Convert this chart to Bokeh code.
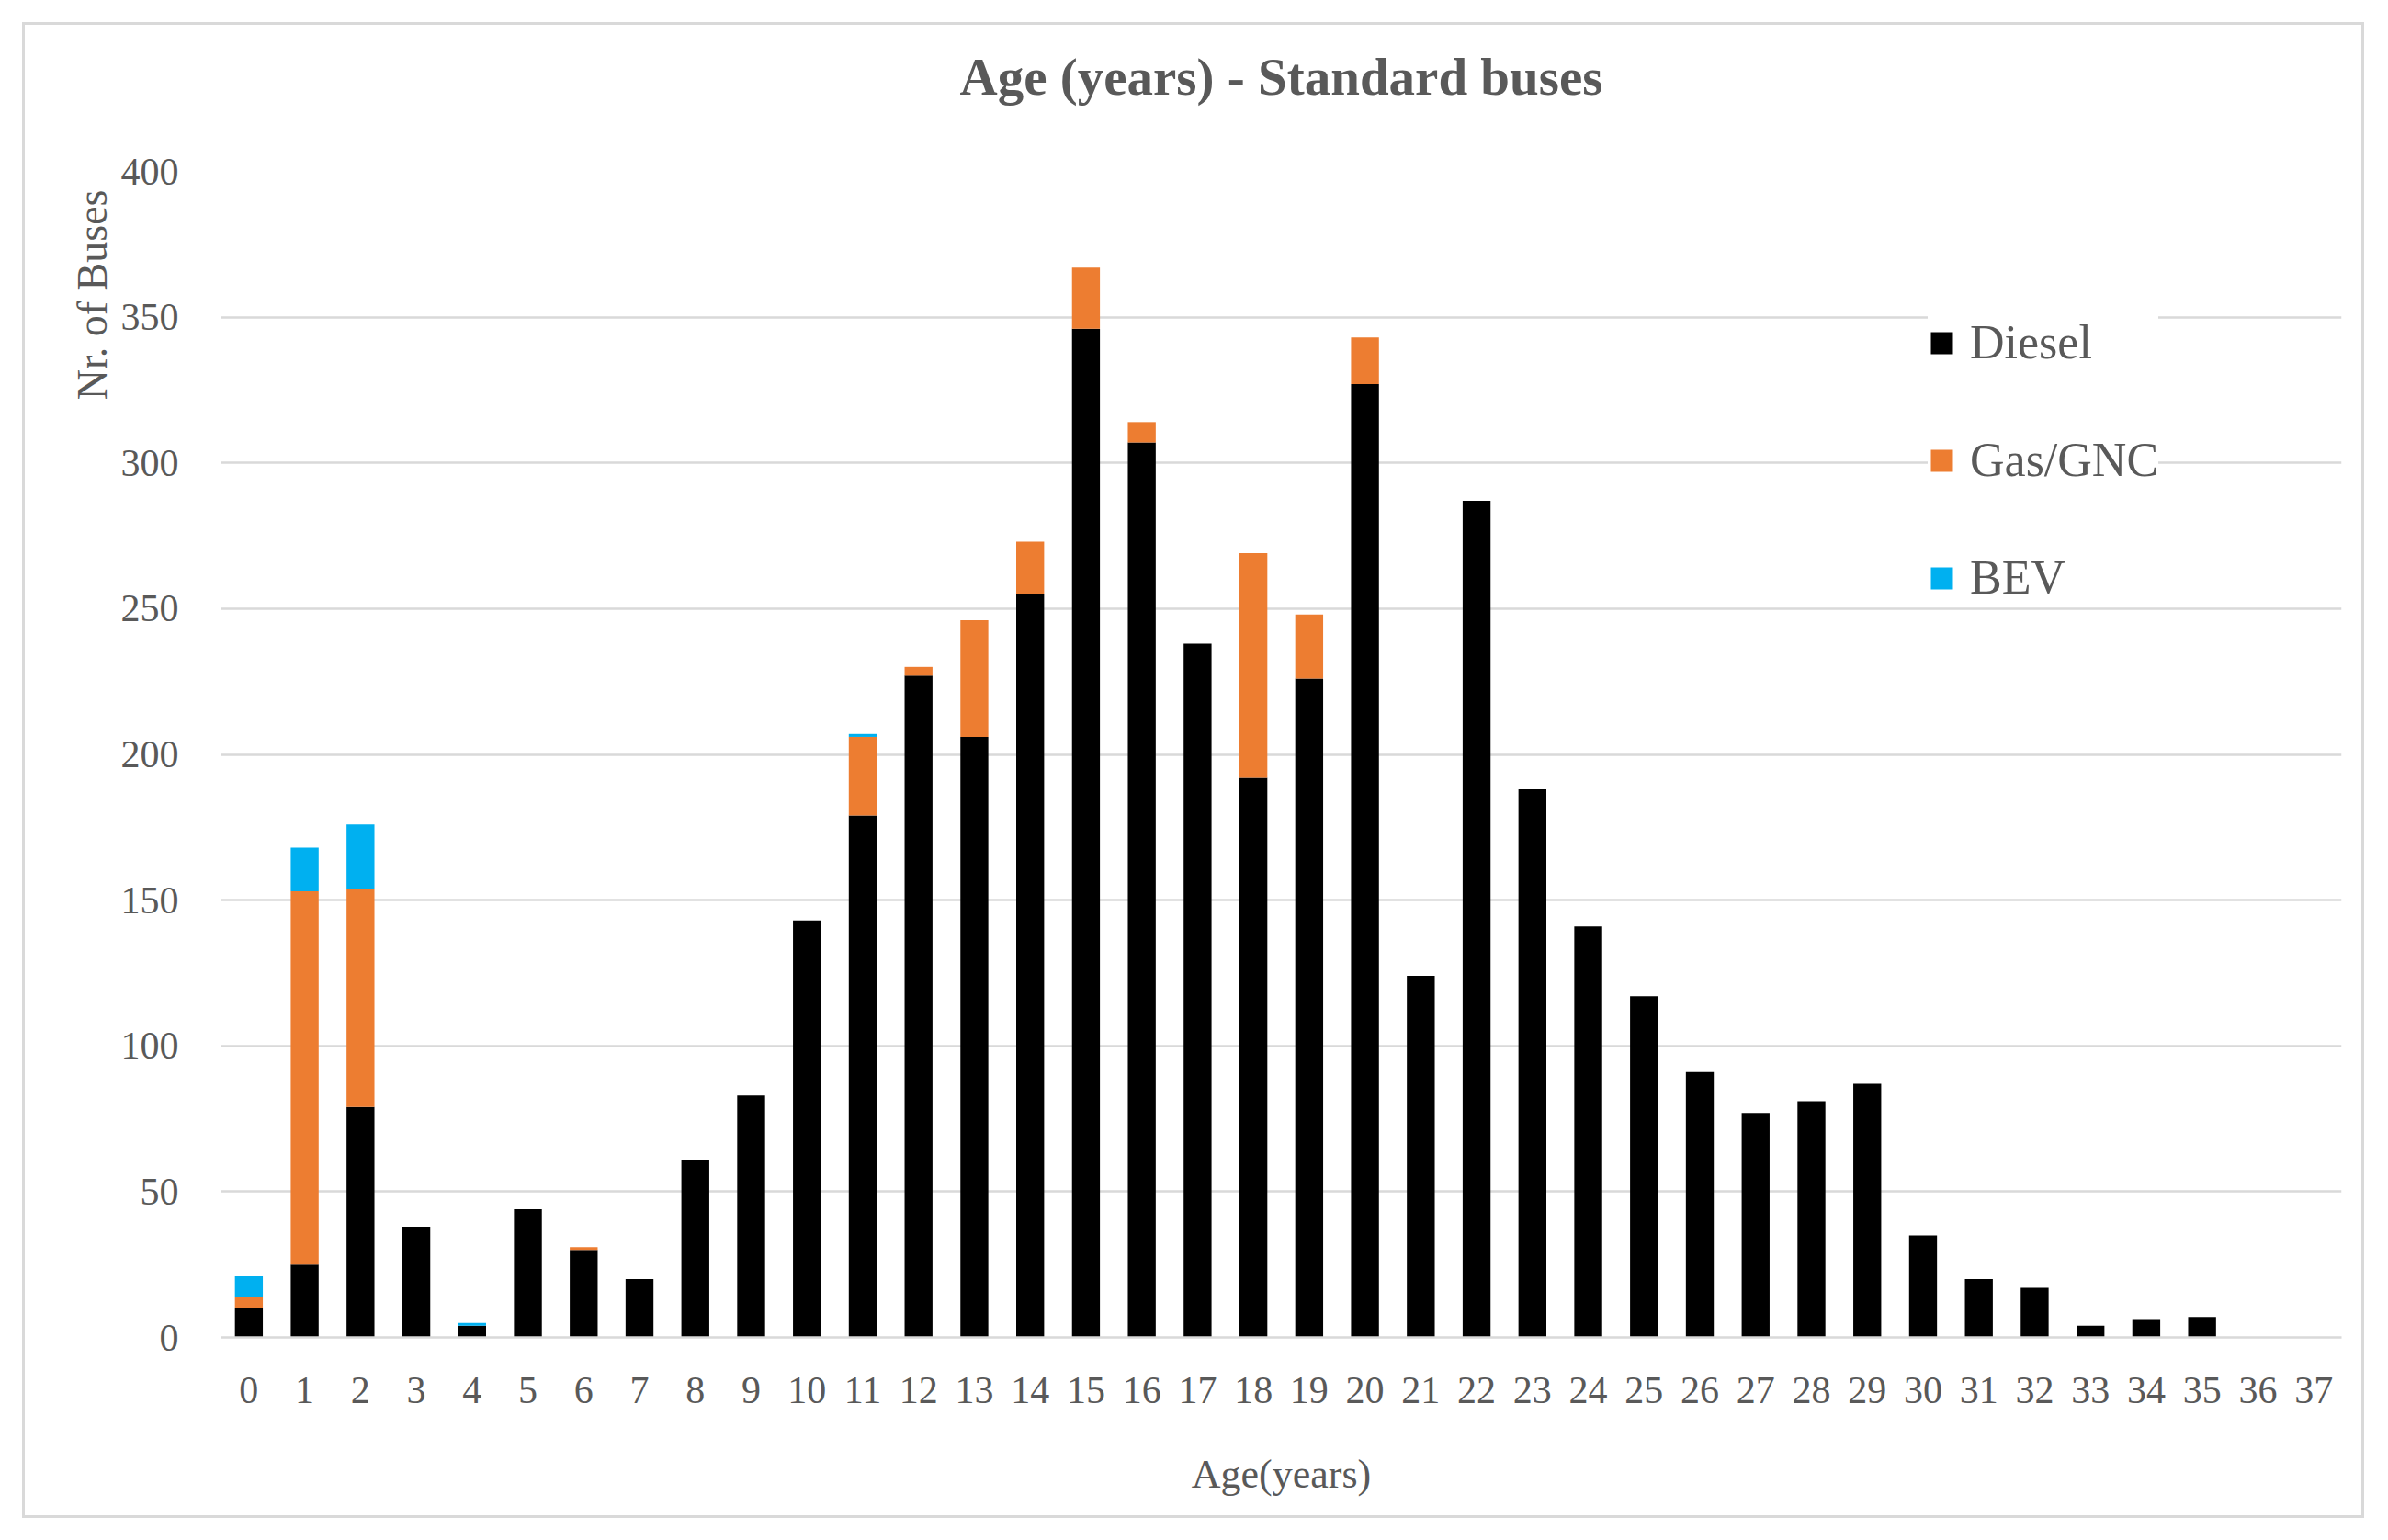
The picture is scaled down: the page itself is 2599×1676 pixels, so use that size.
from bokeh.plotting import figure
from bokeh.models import ColumnDataSource, Range1d, FixedTicker, Legend, Title
from bokeh.embed import file_html
from bokeh.resources import INLINE

ages = list(range(0, 38))
age_labels = [str(a) for a in ages]
diesel = [10, 25, 79, 38, 4, 44, 30, 20, 61, 83, 143, 179, 227, 206, 255, 346, 307, 238,
          192, 226, 327, 124, 287, 188, 141, 117, 91, 77, 81, 87, 35, 20, 17, 4, 6, 7, 0, 0]
gas = [4, 128, 75, 0, 0, 0, 1, 0, 0, 0, 0, 27, 3, 40, 18, 21, 7, 0,
       77, 22, 16, 0, 0, 0, 0, 0, 0, 0, 0, 0, 0, 0, 0, 0, 0, 0, 0, 0]
bev = [7, 15, 22, 0, 1, 0, 0, 0, 0, 0, 0, 1, 0, 0, 0, 0, 0, 0,
       0, 0, 0, 0, 0, 0, 0, 0, 0, 0, 0, 0, 0, 0, 0, 0, 0, 0, 0, 0]
series = ["Diesel", "Gas/GNC", "BEV"]
colors = ["#000000", "#ED7D31", "#00B0F0"]
y_ticks = [0, 50, 100, 150, 200, 250, 300, 350, 400]

FONT = "Liberation Serif"
GREY = "#595959"

source = ColumnDataSource(dict(age=ages, Diesel=diesel, **{"Gas/GNC": gas}, BEV=bev))

p = figure(width=2549, height=1628, title=None,
           x_range=Range1d(-0.5, 37.5), y_range=Range1d(0, 400),
           output_backend="svg", toolbar_location=None,
           min_border_left=213, min_border_right=28,
           min_border_top=159, min_border_bottom=200)
p.margin = (24, 0, 0, 24)
p.styles = {"border": "3px solid #d9d9d9"}

renderers = p.vbar_stack(series, x="age", width=0.5, source=source,
                         color=colors, line_color=None)

# spacer between the frame and the title
spacer = Title(text=" ", text_font=FONT, text_font_size="20px", standoff=48)
p.add_layout(spacer, "above")
main_title = Title(text="Age (years) - Standard buses", align="center",
                   text_font=FONT, text_font_size="57px", text_font_style="bold",
                   text_color=GREY, standoff=0)
p.add_layout(main_title, "above")

ytitle = Title(text="Nr. of Buses", align="right", text_font=FONT,
               text_font_size="46px", text_font_style="normal",
               text_color=GREY, standoff=6, offset=20)
p.add_layout(ytitle, "left")

p.outline_line_color = None
p.xgrid.grid_line_color = None
p.ygrid.grid_line_color = "#d9d9d9"
p.ygrid.grid_line_width = 2.5
p.ygrid.ticker = FixedTicker(ticks=y_ticks)

p.xaxis.ticker = FixedTicker(ticks=ages)
p.xaxis.major_label_overrides = {a: l for a, l in zip(ages, age_labels)}
p.xaxis.axis_line_color = "#d9d9d9"
p.xaxis.axis_line_width = 2.5
p.xaxis.major_tick_line_color = None
p.xaxis.minor_tick_line_color = None
p.xaxis.major_label_standoff = 37
p.xaxis.axis_label = "Age(years)"
p.xaxis.axis_label_standoff = 50
p.xaxis.axis_label_text_font_style = "normal"

p.yaxis.ticker = FixedTicker(ticks=y_ticks)
p.yaxis.axis_line_color = None
p.yaxis.major_tick_line_color = None
p.yaxis.minor_tick_line_color = None
p.yaxis.major_label_standoff = 40

for ax in (p.xaxis, p.yaxis):
    ax.major_label_text_font = FONT
    ax.major_label_text_font_size = "42px"
    ax.major_label_text_color = GREY
    ax.axis_label_text_font = FONT
    ax.axis_label_text_font_size = "44px"
    ax.axis_label_text_color = GREY

legend = Legend(items=[(s, [r]) for s, r in zip(series, renderers)],
                location=(1858, 797))
legend.label_text_font = FONT
legend.label_text_font_size = "52px"
legend.label_text_color = GREY
legend.glyph_width = 30
legend.glyph_height = 30
legend.label_standoff = 16
legend.spacing = 69
legend.padding = 45
legend.border_line_color = None
legend.background_fill_color = "white"
legend.background_fill_alpha = 1.0
p.add_layout(legend)

open("out.html", "w").write(file_html(p, INLINE))
